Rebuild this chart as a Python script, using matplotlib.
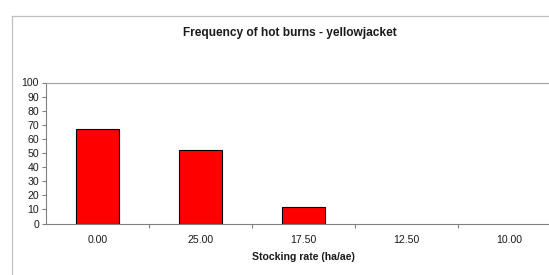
import matplotlib
matplotlib.use("Agg")
import matplotlib.pyplot as plt
from matplotlib.lines import Line2D
import numpy as np

categories = ["0.00", "25.00", "17.50", "12.50", "10.00"]
values = [66.7, 52, 12, 0, 0]
yticks = [0, 10, 20, 30, 40, 50, 60, 70, 80, 90, 100]

plt.rcParams['font.family'] = ['Liberation Sans', 'DejaVu Sans']

W, H = 549, 275
fig = plt.figure(figsize=(W/100, H/100), dpi=100)
fig.patch.set_facecolor("white")

# chart area border (extends beyond image right/bottom)
gray = "#c0c0c0"
fig.add_artist(Line2D([12/W, 1.05], [1-16/H, 1-16/H], transform=fig.transFigure, color=gray, lw=0.9))
fig.add_artist(Line2D([12/W, 12/W], [1-16/H, -0.05], transform=fig.transFigure, color=gray, lw=0.9))

left, top, bottom = 46, 82.5, 223.5
cat_w = 103
ax = fig.add_axes([left/W, 1-bottom/H, 5*cat_w/W, (bottom-top)/H])
x = np.arange(len(categories))
edges = ["black" if v > 0 else "none" for v in values]
ax.bar(x, values, width=0.41, color="#ff0000", edgecolor=edges, linewidth=0.8, zorder=3)
ax.set_xlim(-0.5, 4.5)
ax.set_ylim(0, 100)
ax.set_yticks(yticks)
ax.set_yticklabels([str(v) for v in yticks])
ax.set_xticks(x + 0.5)
ax.set_xticklabels([])
ax.set_xticks(x, minor=True)
ax.set_xticklabels(categories, minor=True)
ax.tick_params(axis='x', which='major', length=3, color="#808080", width=0.8, direction='out')
ax.tick_params(axis='x', which='minor', length=0, pad=8, labelsize=7.6, labelcolor="#1a1a1a")
ax.tick_params(axis='y', length=3, color="#808080", width=0.8, pad=2, labelsize=7.6, labelcolor="#1a1a1a")
for s in ax.spines.values():
    s.set_color("#808080")
    s.set_linewidth(0.8)
ax.spines['top'].set_color("#a0a0a0")

ax.set_xlabel("Stocking rate (ha/ae)", fontsize=7.6, fontweight='bold', color="#1a1a1a")
ax.xaxis.set_label_coords((303-left)/(5*cat_w), -(257-bottom)/(bottom-top))
ax.xaxis.label.set_va('center')

fig.text(290/W, 1-33/H, "Frequency of hot burns - yellowjacket", ha='center', va='center',
         fontsize=8.6, fontweight='bold', color="#1a1a1a")

fig.savefig("out.png", dpi=100)
